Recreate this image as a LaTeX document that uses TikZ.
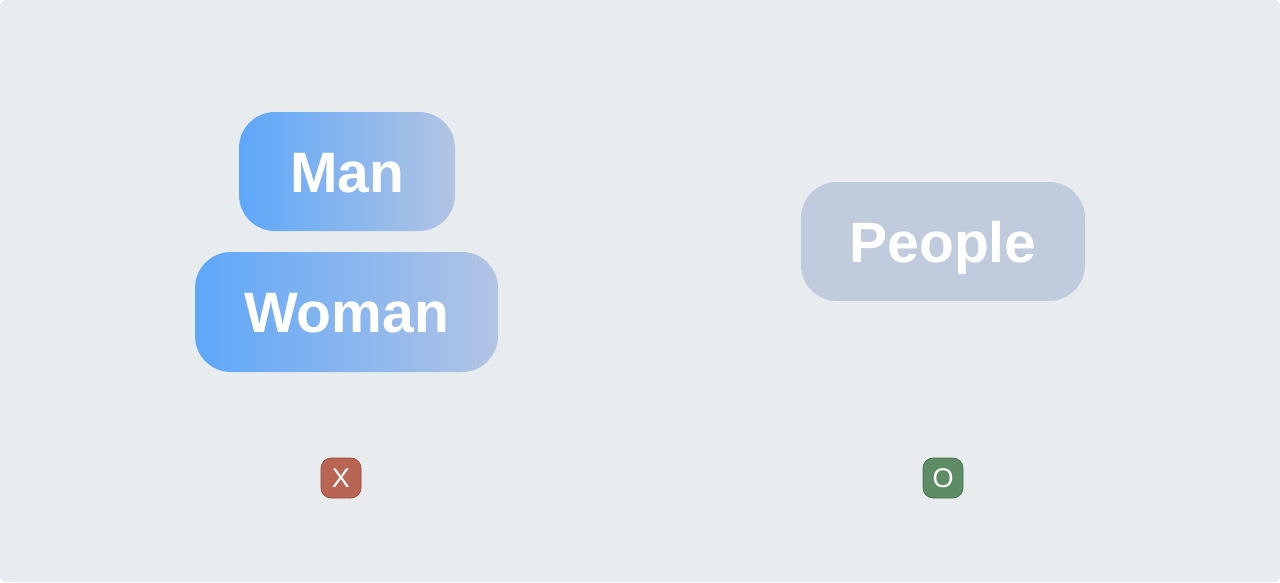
\documentclass[tikz,border=0pt]{standalone}
\usepackage{fontspec}
\setmainfont{Liberation Sans}
\definecolor{bg}{RGB}{232,236,239}
\definecolor{blueL}{RGB}{94,167,249}
\definecolor{blueR}{RGB}{178,196,228}
\definecolor{peoplefill}{RGB}{192,203,221}
\definecolor{xfill}{RGB}{184,101,84}
\definecolor{xedge}{RGB}{150,70,55}
\definecolor{ofill}{RGB}{94,141,101}
\definecolor{oedge}{RGB}{65,110,72}
\tikzset{
  word/.style={rounded corners=36pt, inner sep=0pt, text=white,
    font=\fontsize{57}{60}\selectfont\bfseries, anchor=center,
    text height=41pt, text depth=0pt},
  gradbox/.style={word, left color=blueL, right color=blueR},
  flatbox/.style={word, fill=peoplefill},
  badge/.style={rounded corners=10pt, minimum width=40pt, minimum height=40pt,
    inner sep=0pt, text=white, font=\fontsize{27}{29}\selectfont, line width=0.6pt,
    text height=19.5pt, text depth=0pt},
}
\begin{document}
\begin{tikzpicture}[x=1pt,y=-1pt]
\useasboundingbox (0,0) rectangle (1280,582);
\fill[white] (0,0) rectangle (1280,582);
\fill[bg, rounded corners=6pt] (0,0) rectangle (1280,582);
\node[gradbox, minimum width=216pt, minimum height=119pt] (man) at (347,171.5) {Man};
\node[gradbox, minimum width=303pt, minimum height=120pt] (woman) at (346.5,312) {Woman};
\node[flatbox, minimum width=284pt, minimum height=119pt] (people) at (943,241.5) {People};
\node[badge, fill=xfill, draw=xedge] (x) at (341,478) {X};
\node[badge, fill=ofill, draw=oedge] (o) at (943,478) {O};
\end{tikzpicture}
\end{document}
